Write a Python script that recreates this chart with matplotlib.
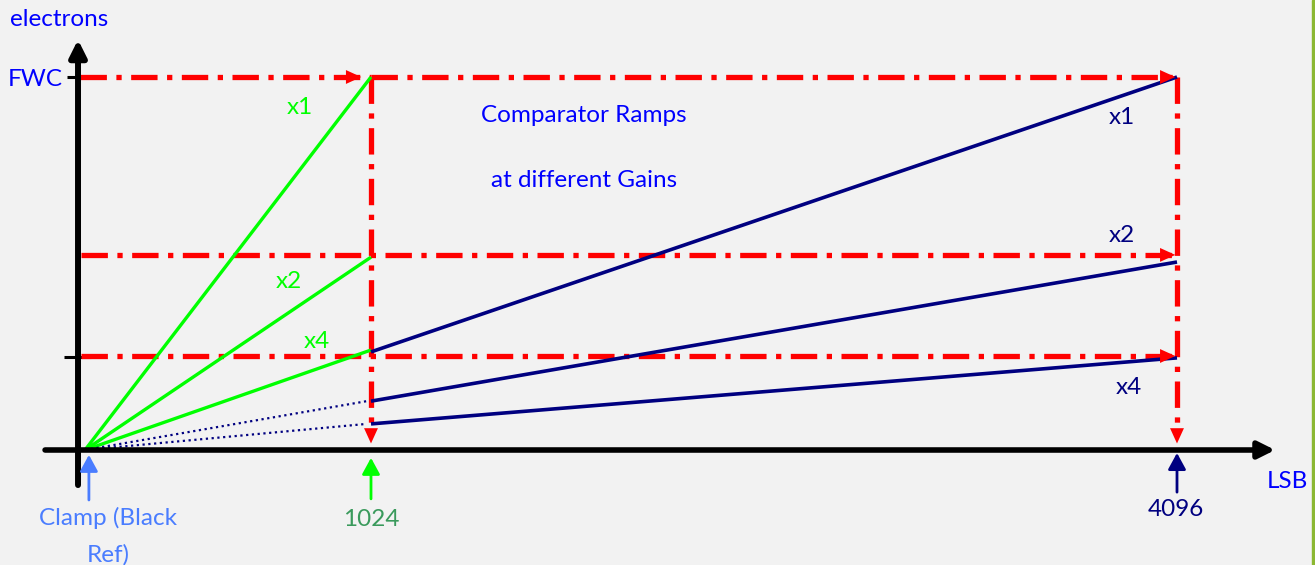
import numpy as np
import matplotlib
matplotlib.use('Agg')
import matplotlib.pyplot as plt
from matplotlib.patches import Rectangle

# --- data (electron levels as a fraction of FWC) ---
gains = ['x1', 'x2', 'x4']
lsb_marks = [0, 1024, 4096]
ref_levels = [1.0, 0.523, 0.252]     # red dash-dot reference levels
green_end = [1.0, 0.517, 0.268]      # analog ramps, value at 1024 LSB
blue_start = [0.263, 0.131, 0.070]   # comparator ramps at 1024 LSB
blue_end = [1.0, 0.504, 0.247]       # comparator ramps at 4096 LSB
y_ticks = [1.0, 0.25]
y_tick_labels = ['FWC', '']

# colours
BG = '#f2f2f2'
RED = '#ff0000'
GREEN = '#00ff00'
NAVY = '#000080'
BLUE = '#0000ff'
CLAMP = '#4a7dff'
DKGREEN = '#3a9a5c'

W, H = 1315, 565
FONT = 'Lato'
FS = 17.5


# schematic x axis: 0..1024 is stretched compared to 1024..4096
def fwd(v):
    v = np.asarray(v, float)
    return np.where(v < 1024, v * 286 / 1024, 286 + (v - 1024) * 806 / 3072)


def inv(p):
    p = np.asarray(p, float)
    return np.where(p < 286, p * 1024 / 286, 1024 + (p - 286) * 3072 / 806)


fig = plt.figure(figsize=(W / 100, H / 100), dpi=100, facecolor=BG)
ax = fig.add_axes([0, 0, 1, 1])
ax.set_facecolor(BG)
ax.set_xscale('function', functions=(fwd, inv))
ax.set_xlim(float(inv(-85)), float(inv(1230)))
ax.set_ylim(-115 / 373, 450 / 373)
ax.axis('off')

y_axis_x = -25.0

# axes with arrows
ax.annotate('', xy=(y_axis_x, 1.10), xytext=(y_axis_x, -0.094),
            arrowprops=dict(arrowstyle='-|>,head_length=0.5,head_width=0.25',
                            color='k', lw=4.3, shrinkA=0, shrinkB=0,
                            mutation_scale=20))
ax.annotate('', xy=(4470, 0), xytext=(-143, 0),
            arrowprops=dict(arrowstyle='-|>,head_length=0.5,head_width=0.25',
                            color='k', lw=4.0, shrinkA=0, shrinkB=0,
                            mutation_scale=20))
# small ticks on the y axis
ax.plot([-64, -10], [y_ticks[0]] * 2, color='k', lw=2.2, solid_capstyle='butt')
ax.plot([-75, 20], [y_ticks[1]] * 2, color='k', lw=2.2, solid_capstyle='butt')

# red dash-dot guide lines
dashdot = (0, (5, 1.8, 1, 1.8))
red_kw = dict(color=RED, lw=3.8, linestyle=dashdot)
ax.plot([y_axis_x + 8, lsb_marks[1]], [ref_levels[0]] * 2, **red_kw)
ax.plot([lsb_marks[1], lsb_marks[2]], [ref_levels[0]] * 2, **red_kw)
for lvl in ref_levels[1:]:
    ax.plot([y_axis_x + 10, lsb_marks[2]], [lvl, lvl], **red_kw)
for xm in lsb_marks[1:]:
    ax.plot([xm, xm], [ref_levels[0], 0.055], **red_kw)


def head(tip, dx, dy, color):
    ax.annotate('', xy=tip, xytext=(dx, dy), textcoords='offset points',
                arrowprops=dict(arrowstyle='-|>,head_length=1.1,head_width=0.5',
                                fc=color, ec='none', shrinkA=0, shrinkB=0,
                                mutation_scale=10))


head((995, ref_levels[0]), -12, 0, RED)
for lvl in ref_levels:
    head((lsb_marks[2], lvl), -12, 0, RED)
for xm in lsb_marks[1:]:
    head((xm, 0.013), 0, 12, RED)

# analog ramps (green) up to 1024
for g in green_end:
    ax.plot([lsb_marks[0], lsb_marks[1]], [0, g], color=GREEN, lw=2.4,
            solid_capstyle='butt')

# comparator ramps (navy) from 1024 to 4096
for s, e in zip(blue_start, blue_end):
    ax.plot([lsb_marks[1], lsb_marks[2]], [s, e], color=NAVY, lw=2.6,
            solid_capstyle='butt')
# dotted continuation back to the origin
for s in blue_start[1:]:
    ax.plot([lsb_marks[0], lsb_marks[1] - 15], [0, s], color=NAVY, lw=1.6,
            linestyle=(0, (1, 1.6)))

# up arrows under the axis
up_kw = dict(arrowstyle='-|>,head_length=0.55,head_width=0.3', lw=2.0,
             shrinkA=0, shrinkB=0, mutation_scale=18)
ax.annotate('', xy=(14, -0.013), xytext=(14, -0.134),
            arrowprops=dict(color=CLAMP, **up_kw))
ax.annotate('', xy=(lsb_marks[1], -0.021), xytext=(lsb_marks[1], -0.131),
            arrowprops=dict(color=GREEN, **up_kw))
ax.annotate('', xy=(lsb_marks[2], -0.008), xytext=(lsb_marks[2], -0.113),
            arrowprops=dict(color=NAVY, **up_kw))


def label(px, py, s, color, ha='center', size=FS):
    fig.text(px / W, 1 - py / H, s, color=color, ha=ha, va='center',
             fontsize=size, family=FONT)


label(10, 20, 'electrons', BLUE, ha='left')
label(8, 80, y_tick_labels[0], BLUE, ha='left')
label(1267, 481, 'LSB', BLUE, ha='left')
label(584, 115, 'Comparator Ramps', BLUE)
label(584, 180, 'at different Gains', BLUE)

for (px, py), g in zip([(300, 108), (289, 281), (317, 341)], gains):
    label(px, py, g, GREEN)
for (px, py), g in zip([(1122, 118), (1122, 236), (1129, 387)], gains):
    label(px, py, g, NAVY)

label(108, 518, 'Clamp (Black', CLAMP)
label(108, 555, 'Ref)', CLAMP)
label(371, 520, str(lsb_marks[1]), DKGREEN)
label(1176, 510, str(lsb_marks[2]), NAVY)

# thin green frame edge at the right
fig.patches.append(Rectangle((1312 / W, 0), 3 / W, 1, transform=fig.transFigure,
                             color='#8cb832', zorder=10))

fig.savefig('out.png', dpi=100, facecolor=BG)
